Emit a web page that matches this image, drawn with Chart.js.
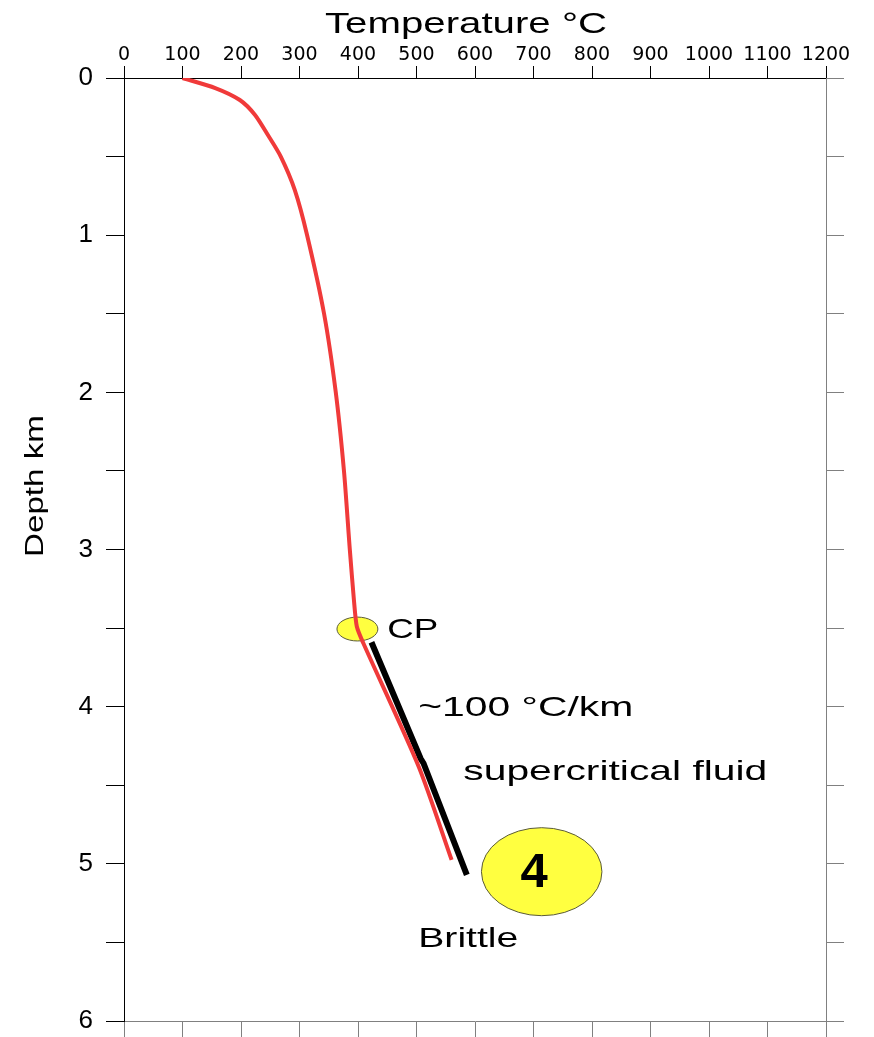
<!DOCTYPE html>
<html>
<head>
<meta charset="utf-8">
<title>Temperature - depth</title>
<script src="https://cdn.jsdelivr.net/npm/chart.js@4.4.1/dist/chart.umd.min.js"></script>
<style>
  html, body { margin: 0; padding: 0; background: #fff; }
  canvas { display: block; }
</style>
</head>
<body>
<canvas id="chart" width="874" height="1037"></canvas>
<script>
// measured well temperature (red), degC vs km
const wellTemp  = [100, 156, 198, 224, 246, 268, 292, 313, 342, 362, 376, 386, 393, 398, 409, 504, 560];
const wellDepth = [0, 0.064, 0.14, 0.235, 0.363, 0.5, 0.713, 1.0, 1.5, 2.0, 2.5, 3.0, 3.32, 3.49, 3.595, 4.384, 4.975];

// ~100 C/km gradient below the critical point (black)
const gradTemp  = [423, 507, 512, 586];
const gradDepth = [3.59, 4.33, 4.36, 5.07];

// axis ranges / steps
const tempRange  = [0, 1200];
const tempStep   = 100;
const depthRange = [0, 6];
const depthStep  = 0.5;

// yellow blobs: CP and the "4" marker (centre temp, centre depth)
const blobTemp  = [399, 714];
const blobDepth = [3.506, 5.05];

// text notes, anchored at left baseline
const noteText  = ['CP', '~100 °C/km', 'supercritical fluid', 'Brittle'];
const noteTemp  = [450, 503, 580, 503];
const noteDepth = [3.563, 4.059, 4.467, 5.529];

const blobSize = [[35, 0.076], [103, 0.28]];   // radius in degC / km
const noteWidth = [51, 215, 304, 100];           // the source text is drawn wide

function wideText(ctx, str, x, y, size, width, weight) {
  ctx.save();
  ctx.font = (weight || 'normal') + ' ' + size + 'px "Liberation Sans", Arial, sans-serif';
  const w = ctx.measureText(str).width;
  ctx.translate(x, y);
  ctx.scale(width ? width / w : 1, 1);
  ctx.textAlign = 'left';
  ctx.textBaseline = 'alphabetic';
  ctx.fillStyle = '#000';
  ctx.fillText(str, 0, 0);
  ctx.restore();
}

const overlay = {
  id: 'overlay',
  beforeDatasetsDraw(chart) {
    const { ctx, scales: { x, y } } = chart;
    blobTemp.forEach((t, i) => {
      const cx = x.getPixelForValue(t), cy = y.getPixelForValue(blobDepth[i]);
      const rx = Math.abs(x.getPixelForValue(t + blobSize[i][0]) - cx);
      const ry = Math.abs(y.getPixelForValue(blobDepth[i] + blobSize[i][1]) - cy);
      ctx.save();
      ctx.beginPath();
      ctx.ellipse(cx, cy, rx, ry, 0, 0, Math.PI * 2);
      ctx.fillStyle = '#ffff40';
      ctx.fill();
      ctx.lineWidth = 1;
      ctx.strokeStyle = '#5a5a3a';
      ctx.stroke();
      ctx.restore();
    });
  },
  afterDraw(chart) {
    const { ctx, chartArea, scales: { x, y } } = chart;

    noteText.forEach((s, i) => {
      wideText(ctx, s, x.getPixelForValue(noteTemp[i]), y.getPixelForValue(noteDepth[i]), 28, noteWidth[i]);
    });

    // big "4" in the marker
    ctx.save();
    ctx.font = 'bold 49px "Liberation Sans", Arial, sans-serif';
    ctx.textAlign = 'center';
    ctx.textBaseline = 'alphabetic';
    ctx.fillStyle = '#000';
    ctx.fillText('4', x.getPixelForValue(701), y.getPixelForValue(5.147));
    ctx.restore();

    // axis titles
    wideText(ctx, 'Temperature °C', chartArea.left + 201, 33, 30, 282);
    ctx.save();
    ctx.translate(43, 557);
    ctx.rotate(-Math.PI / 2);
    wideText(ctx, 'Depth km', 0, 0, 25, 142);
    ctx.restore();
  }
};

const ctx = document.getElementById('chart').getContext('2d');
new Chart(ctx, {
  type: 'scatter',
  data: {
    datasets: [
      {
        label: 'well',
        data: wellTemp.map((t, i) => ({ x: t, y: wellDepth[i] })),
        showLine: true,
        borderColor: 'rgb(240, 58, 58)',
        borderWidth: 4,
        pointRadius: 0,
        tension: 0.25,
        xAxisID: 'x',
        yAxisID: 'y'
      },
      {
        label: 'gradient',
        data: gradTemp.map((t, i) => ({ x: t, y: gradDepth[i] })),
        showLine: true,
        borderColor: '#000',
        borderWidth: 6,
        pointRadius: 0,
        xAxisID: 'x',
        yAxisID: 'y'
      }
    ]
  },
  options: {
    responsive: false,
    animation: false,
    events: [],
    layout: { padding: 0 },
    plugins: { legend: { display: false }, tooltip: { enabled: false } },
    scales: {
      x: {
        type: 'linear',
        position: 'top',
        min: tempRange[0],
        max: tempRange[1],
        border: { color: '#000', width: 1 },
        grid: { drawOnChartArea: false, drawTicks: true, tickLength: 12, color: '#000' },
        ticks: {
          stepSize: tempStep,
          autoSkip: false,
          maxRotation: 0,
          padding: 0,
          color: '#000',
          font: { family: 'DejaVu Sans', size: 19 },
          callback: v => String(v)
        },
        afterFit(s) { s.height = 78; s.paddingLeft = 0; s.paddingRight = 0; }
      },
      x2: {
        type: 'linear',
        position: 'bottom',
        min: tempRange[0],
        max: tempRange[1],
        border: { color: '#808080', width: 1 },
        grid: { drawOnChartArea: false, drawTicks: true, tickLength: 16, color: '#808080' },
        ticks: { stepSize: tempStep, autoSkip: false, callback: () => '' },
        afterFit(s) { s.height = 16; s.paddingLeft = 0; s.paddingRight = 0; }
      },
      y: {
        type: 'linear',
        position: 'left',
        reverse: true,
        min: depthRange[0],
        max: depthRange[1],
        border: { color: '#000', width: 1 },
        grid: { drawOnChartArea: false, drawTicks: true, tickLength: 18, color: '#000' },
        ticks: {
          stepSize: depthStep,
          autoSkip: false,
          padding: 13,
          color: '#000',
          font: { family: 'Liberation Sans', size: 26 },
          callback: v => Number.isInteger(v) ? String(v) : ''
        },
        afterFit(s) { s.width = 124; s.paddingTop = 0; s.paddingBottom = 0; }
      },
      y2: {
        type: 'linear',
        position: 'right',
        reverse: true,
        min: depthRange[0],
        max: depthRange[1],
        border: { color: '#808080', width: 1 },
        grid: { drawOnChartArea: false, drawTicks: true, tickLength: 18, color: '#808080' },
        ticks: { stepSize: depthStep, autoSkip: false, callback: () => '' },
        afterFit(s) { s.width = 48; s.paddingTop = 0; s.paddingBottom = 0; }
      }
    }
  },
  plugins: [overlay]
});
</script>
</body>
</html>
